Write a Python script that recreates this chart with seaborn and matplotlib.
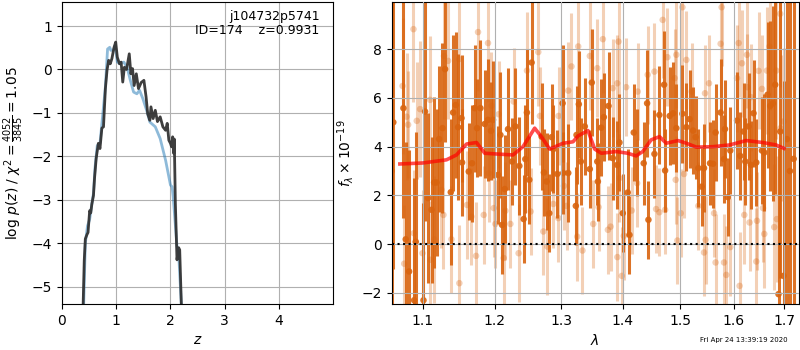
import numpy as np
import matplotlib
matplotlib.use("Agg")
import matplotlib.pyplot as plt
import matplotlib.ticker as mticker
import seaborn as sns

# p(z) curves (left panel)
z_fit = [0.39, 0.41, 0.43, 0.46, 0.48, 0.51, 0.53, 0.55, 0.58, 0.60, 0.63, 0.67, 0.70, 0.735,
         0.765, 0.80, 0.83, 0.86, 0.89, 0.92, 0.96, 0.99, 1.02, 1.06, 1.09, 1.12, 1.15, 1.19,
         1.24, 1.27, 1.30, 1.33, 1.37, 1.41, 1.46, 1.51, 1.55, 1.58, 1.62, 1.64, 1.68, 1.72,
         1.76, 1.81, 1.86, 1.91, 1.94, 1.97, 2.00, 2.02, 2.04, 2.06, 2.07, 2.09, 2.12, 2.15,
         2.17, 2.20]
logp_fit = [-5.4, -4.4, -3.9, -3.8, -3.75, -3.25, -3.3, -3.1, -2.9, -2.5, -2.05, -1.70, -1.82, -1.35,
            -1.32, -0.44, -0.02, 0.21, 0.13, 0.25, 0.51, 0.63, 0.28, 0.13, 0.17, -0.29, 0.05, 0.0,
            0.36, -0.1, 0.02, -0.37, -0.1, -0.44, -0.3, -0.25, -0.63, -1.02, -1.17, -0.86, -1.13, -0.94,
            -1.2, -1.09, -1.32, -1.4, -1.24, -1.63, -1.70, -1.78, -1.55, -1.93, -1.6, -3.08, -4.38, -4.1,
            -4.15, -5.4]

z_prior = [0.40, 0.43, 0.47, 0.51, 0.55, 0.58, 0.61, 0.65, 0.70, 0.735, 0.80, 0.84, 0.88, 0.90,
           0.95, 0.98, 1.02, 1.07, 1.14, 1.20, 1.26, 1.32, 1.38, 1.43, 1.49, 1.56, 1.62, 1.72,
           1.81, 1.91, 2.00, 2.03, 2.05, 2.12, 2.15, 2.20]
logp_prior = [-5.4, -4.0, -3.6, -3.45, -3.1, -2.85, -2.24, -1.75, -1.7, -1.25, -0.4, 0.47, 0.51, 0.44,
              0.45, 0.55, 0.17, 0.13, 0.17, 0.05, -0.25, -0.52, -0.56, -0.48, -0.67, -0.94, -1.21, -1.32,
              -1.59, -2.09, -2.66, -2.70, -2.93, -4.07, -4.22, -5.4]

# spectrum, dark points
dark_wave = [1.060, 1.062, 1.075, 1.078, 1.0824, 1.0889, 1.0911, 1.1013, 1.1034, 1.1074, 1.1120,
             1.1155, 1.1187, 1.1222, 1.1268, 1.1303, 1.1381, 1.1413, 1.1450, 1.1482,
             1.1529, 1.1537, 1.1630, 1.1676, 1.1715, 1.1747, 1.1795, 1.1856, 1.1903, 1.1946,
             1.1975, 1.2047, 1.2082, 1.2106, 1.2145, 1.2193, 1.2252, 1.2302, 1.2361, 1.2425,
             1.2450, 1.2474, 1.2510, 1.2545, 1.2697, 1.2732, 1.2774, 1.2815, 1.2851, 1.2877,
             1.2939, 1.3022, 1.3033, 1.3111, 1.3231, 1.3242, 1.3279, 1.3311, 1.3375, 1.3456,
             1.3488, 1.3577, 1.3587, 1.3642, 1.3685, 1.3762, 1.3833, 1.3907, 1.3945, 1.4001,
             1.4085, 1.4114, 1.4187, 1.4245, 1.4358, 1.4417, 1.4440, 1.4545, 1.4632, 1.4715,
             1.4733, 1.4814, 1.4875, 1.4934, 1.5043, 1.5115, 1.5175, 1.5238, 1.5285, 1.5335,
             1.5396, 1.5440, 1.5552, 1.5609, 1.5657, 1.5752, 1.5816, 1.5835, 1.5892, 1.5936,
             1.6066, 1.6129, 1.6194, 1.6227, 1.6290, 1.6338, 1.6389, 1.6443, 1.6556, 1.6602,
             1.6668, 1.6721, 1.6776, 1.6822, 1.6889, 1.6924, 1.6991, 1.7061, 1.7124, 1.7200]
dark_flux = [3.0, 5.0, 5.58, 0.2, -1.12, -2.3, 0.1, -2.3, 5.44, 1.89, 1.41,
             2.53, 2.53, 4.31, 4.76, 7.18, 2.13, 5.4, 5.71, 4.8,
             5.17, 3.35, 2.98, 3.32, 5.58, 4.76, 5.58, 4.93, 5.1, 4.65,
             5.1, 2.84, 4.48, 0.79, 2.26, 4.72, 3.39, 4.83, 3.21, 1.03,
             3.49, 5.4, 2.64, 7.45, 4.41, 2.94, 2.57, 1.27, 4.39, 3.9,
             2.88, 5.78, 2.92, 2.92, 1.57, 4.48, 5.74, 3.39, 4.83, 3.08,
             6.63, 3.39, 2.57, 4.78, 5.21, 5.67, 3.53, 3.25, 4.17, 1.27,
             2.12, 0.38, 4.58, 3.76, 3.32, 5.78, 1.0, 3.7, 5.3, 6.54,
             3.02, 5.26, 5.37, 4.76, 5.35, 4.8, 5.13, 4.66, 4.39, 3.12,
             2.36, 3.12, 3.32, 3.3, 4.58, 5.4, 3.49, 4.72, 1.93, 3.84,
             5.07, 3.62, 4.62, 3.39, 4.83, 3.25, 5.37, 3.35, 3.84, 3.76,
             6.13, 5.67, 5.78, 6.54, -2.05, 4.62, -1.3, 4.31, 3.0, 3.5]
dark_err = [12.0, 6.0, 4.5, 4.0, 5.0, 5.0, 4.5, 4.0, 4.5, 3.5, 3.0,
            3.5, 3.0, 3.0, 3.5, 3.0, 3.0, 3.2, 3.0, 3.0,
            2.6, 2.2, 2.0, 2.4, 2.6, 2.0, 2.8, 2.2, 2.5, 2.0,
            2.4, 2.0, 2.6, 2.0, 2.2, 2.5, 1.8, 2.4, 2.0, 1.8,
            2.2, 2.6, 1.8, 2.5, 2.2, 1.8, 2.0, 1.6, 2.2, 1.8,
            1.8, 2.4, 1.7, 2.0, 1.6, 2.0, 2.2, 1.8, 2.0, 1.6,
            2.2, 1.8, 1.6, 2.0, 1.8, 2.2, 1.7, 1.8, 2.0, 1.6,
            1.8, 1.6, 2.0, 1.8, 1.7, 2.2, 1.6, 1.8, 2.0, 2.2,
            1.7, 2.0, 2.1, 1.8, 2.0, 1.8, 2.0, 1.8, 1.7, 1.6,
            1.6, 1.8, 1.7, 1.8, 2.0, 2.2, 1.8, 2.0, 1.6, 1.8,
            2.0, 1.8, 2.0, 1.8, 2.2, 1.8, 2.2, 1.8, 2.2, 2.4,
            3.0, 3.5, 4.0, 4.5, 6.0, 6.0, 8.0, 9.0, 12.0, 12.0]

# spectrum, light points
light_wave = [1.0739, 1.0760, 1.0791, 1.0811, 1.0881, 1.0885, 1.0924, 1.0968, 1.1000, 1.1101,
              1.1105, 1.1155, 1.1254, 1.1281, 1.1289, 1.1344, 1.1390, 1.1495, 1.1499, 1.1606,
              1.1668, 1.1733, 1.1761, 1.1842, 1.1903, 1.1913, 1.1952, 1.1985, 1.2010, 1.2057,
              1.2130, 1.2155, 1.2228, 1.2277, 1.2350, 1.2475, 1.2530, 1.2646, 1.2671, 1.2723,
              1.2785, 1.2877, 1.2955, 1.2958, 1.3042, 1.3084, 1.3111, 1.3162, 1.3253, 1.3269,
              1.3337, 1.3456, 1.3511, 1.3577, 1.3598, 1.3669, 1.3752, 1.3797, 1.3833, 1.3907,
              1.3910, 1.3929, 1.3945, 1.3984, 1.4018, 1.4058, 1.4153, 1.4245, 1.4255, 1.4427,
              1.4545, 1.4574, 1.4632, 1.4690, 1.4733, 1.4774, 1.4904, 1.4922, 1.4934, 1.4952,
              1.5012, 1.5043, 1.5073, 1.5115, 1.5212, 1.5335, 1.5440, 1.5458, 1.5470, 1.5533,
              1.5628, 1.5657, 1.5752, 1.5771, 1.5816, 1.5860, 1.5936, 1.6066, 1.6097, 1.6116,
              1.6162, 1.6207, 1.6259, 1.6270, 1.6310, 1.6338, 1.6443, 1.6457, 1.6488, 1.6556,
              1.6576, 1.6602, 1.6655, 1.6707, 1.6802, 1.6842, 1.6856, 1.6924, 1.6930, 1.6991]
light_flux = [6.49, -0.8, 5.23, 4.9, 8.82, 0.45, 5.06, 5.54, -0.37, 5.92,
              -0.64, 0.2, 2.23, 1.2, 7.72, 7.52, 0.2, 7.59, -1.6, 1.61,
              1.13, -0.48, 8.7, 1.2, 8.25, 2.91, 5.68, 1.48, 0.83, 5.33,
              -0.57, 1.37, 0.83, 5.85, -0.37, 7.12, 1.34, 7.88, 5.26, 0.52,
              -0.1, 1.65, 1.07, 5.26, 2.39, 1.57, 6.3, 7.29, 0.31, 8.11,
              -0.26, 7.72, 0.83, 7.22, 1.52, 8.41, 0.59, 0.72, 6.4, 6.6,
              -0.53, 8.31, 2.71, -1.3, 0.34, 6.44, 1.38, 2.5, 6.26, 6.95,
              7.08, 1.44, 1.31, 9.2, 1.41, 7.67, 6.81, 2.64, 7.77, 0.15,
              1.27, 9.72, 2.88, 7.56, 6.26, 1.57, -0.34, 6.19, 0.18, 6.6,
              1.27, -0.75, 8.22, 9.72, -0.75, -1.26, -0.12, 6.81, 8.25, -1.71,
              7.42, 1.2, 7.77, 6.44, 0.89, 6.03, -0.71, 0.96, 7.11, 6.37,
              1.48, 0.42, 7.12, 8.11, 0.7, 7.12, 1.03, 9.45, 4.76, 5.03]
light_err = [2.8, 2.4, 2.6, 2.2, 3.0, 2.6, 2.4, 2.8, 2.6, 2.6,
             2.4, 2.6, 2.4, 2.2, 2.6, 2.4, 2.2, 2.6, 2.4, 2.2,
             2.0, 2.2, 2.4, 2.0, 2.4, 2.0, 2.2, 2.0, 1.8, 2.2,
             2.0, 2.0, 1.8, 2.2, 2.0, 2.4, 1.8, 2.2, 2.0, 1.8,
             2.0, 1.8, 1.8, 2.0, 1.8, 1.8, 2.0, 2.2, 1.8, 2.2,
             1.8, 2.2, 1.8, 2.0, 1.8, 2.2, 1.8, 1.8, 2.0, 2.0,
             1.8, 2.2, 1.8, 2.0, 1.8, 2.0, 1.8, 1.8, 2.0, 2.0,
             2.0, 1.8, 1.8, 2.4, 1.8, 2.0, 2.0, 1.8, 2.2, 1.8,
             1.8, 2.4, 1.8, 2.0, 2.0, 1.8, 1.8, 2.0, 1.8, 2.0,
             1.8, 2.0, 2.2, 2.4, 2.0, 2.0, 2.0, 2.2, 2.2, 2.2,
             2.2, 2.0, 2.2, 2.2, 2.0, 2.2, 2.2, 2.0, 2.4, 2.2,
             2.2, 2.2, 2.6, 2.6, 2.6, 2.8, 2.6, 3.0, 3.0, 3.0]

# best-fit model
model_wave = [1.0704, 1.1000, 1.1322, 1.1459, 1.1600, 1.1740, 1.1856, 1.2023, 1.2267, 1.2415,
              1.2591, 1.2693, 1.2821, 1.3028, 1.3186, 1.3266, 1.3426, 1.3535, 1.3644, 1.3890,
              1.4085, 1.4228, 1.4341, 1.4487, 1.4634, 1.4752, 1.4964, 1.5116, 1.5299, 1.5608,
              1.5921, 1.6244, 1.6572, 1.6840, 1.7000]
model_flux = [3.29, 3.33, 3.46, 3.66, 4.11, 4.17, 3.73, 3.70, 3.66, 4.0,
              4.76, 4.41, 3.9, 4.14, 4.2, 4.44, 4.66, 3.9, 3.73, 3.8,
              3.73, 3.62, 3.8, 4.28, 4.41, 4.14, 4.25, 4.14, 3.98, 4.0,
              4.07, 4.25, 4.17, 4.07, 3.93]

orange = '#d9640f'

fig = plt.figure(figsize=(8, 3.5), dpi=100)
ax1 = fig.add_axes([0.0775, 0.131, 0.339, 0.863])
ax2 = fig.add_axes([0.4894, 0.131, 0.5088, 0.863])

# left: p(z)
sns.lineplot(x=z_prior, y=logp_prior, ax=ax1, color='#1f77b4', alpha=0.5, lw=2, sort=False)
sns.lineplot(x=z_fit, y=logp_fit, ax=ax1, color='#333333', lw=2, alpha=0.95, sort=False)
ax1.set_xlim(0, 5.0)
ax1.set_ylim(-5.4, 1.55)
ax1.set_xticks([0, 1, 2, 3, 4])
ax1.set_yticks([-5, -4, -3, -2, -1, 0, 1])
ax1.grid(True)
ax1.set_xlabel('$z$')
ax1.set_ylabel(r'log $p(z)$ / $\chi^2=\frac{4052}{3845}=1.05$')
ax1.text(0.95, 0.975, 'j104732p5741\nID=174    z=0.9931', transform=ax1.transAxes,
         ha='right', va='top', fontsize=9, linespacing=1.1)

# right: spectrum
ax2.errorbar(light_wave, light_flux, yerr=light_err, fmt='none', ecolor=orange,
             alpha=0.3, elinewidth=2.2, zorder=1)
sns.scatterplot(x=light_wave, y=light_flux, ax=ax2, color=orange, alpha=0.3, s=22,
                edgecolor='none', zorder=1)
ax2.errorbar(dark_wave, dark_flux, yerr=dark_err, fmt='none', ecolor=orange,
             alpha=0.9, elinewidth=2.2, zorder=2)
sns.scatterplot(x=dark_wave, y=dark_flux, ax=ax2, color=orange, alpha=0.9, s=22,
                edgecolor='none', zorder=2)
sns.lineplot(x=model_wave, y=model_flux, ax=ax2, color='red', lw=2.6, alpha=0.7, zorder=4)
ax2.axhline(0, color='k', linestyle=':', lw=1.5, zorder=5)

ax2.set_xscale('log')
ax2.set_xlim(1.0597, 1.7302)
ax2.set_ylim(-2.46, 9.93)
ax2.xaxis.set_major_locator(mticker.FixedLocator([1.1, 1.2, 1.3, 1.4, 1.5, 1.6, 1.7]))
ax2.xaxis.set_major_formatter(mticker.FormatStrFormatter('%.1f'))
ax2.xaxis.set_minor_locator(mticker.NullLocator())
ax2.set_yticks([-2, 0, 2, 4, 6, 8])
ax2.grid(True)
ax2.set_axisbelow(False)
for gl in ax2.get_xgridlines() + ax2.get_ygridlines():
    gl.set_zorder(3)
ax2.set_xlabel(r'$\lambda$')
ax2.set_ylabel(r'$f_\lambda\times10^{-19}$')

fig.text(0.985, 0.02, 'Fri Apr 24 13:39:19 2020', ha='right', va='bottom', fontsize=5)

fig.savefig('out.png', dpi=100)
